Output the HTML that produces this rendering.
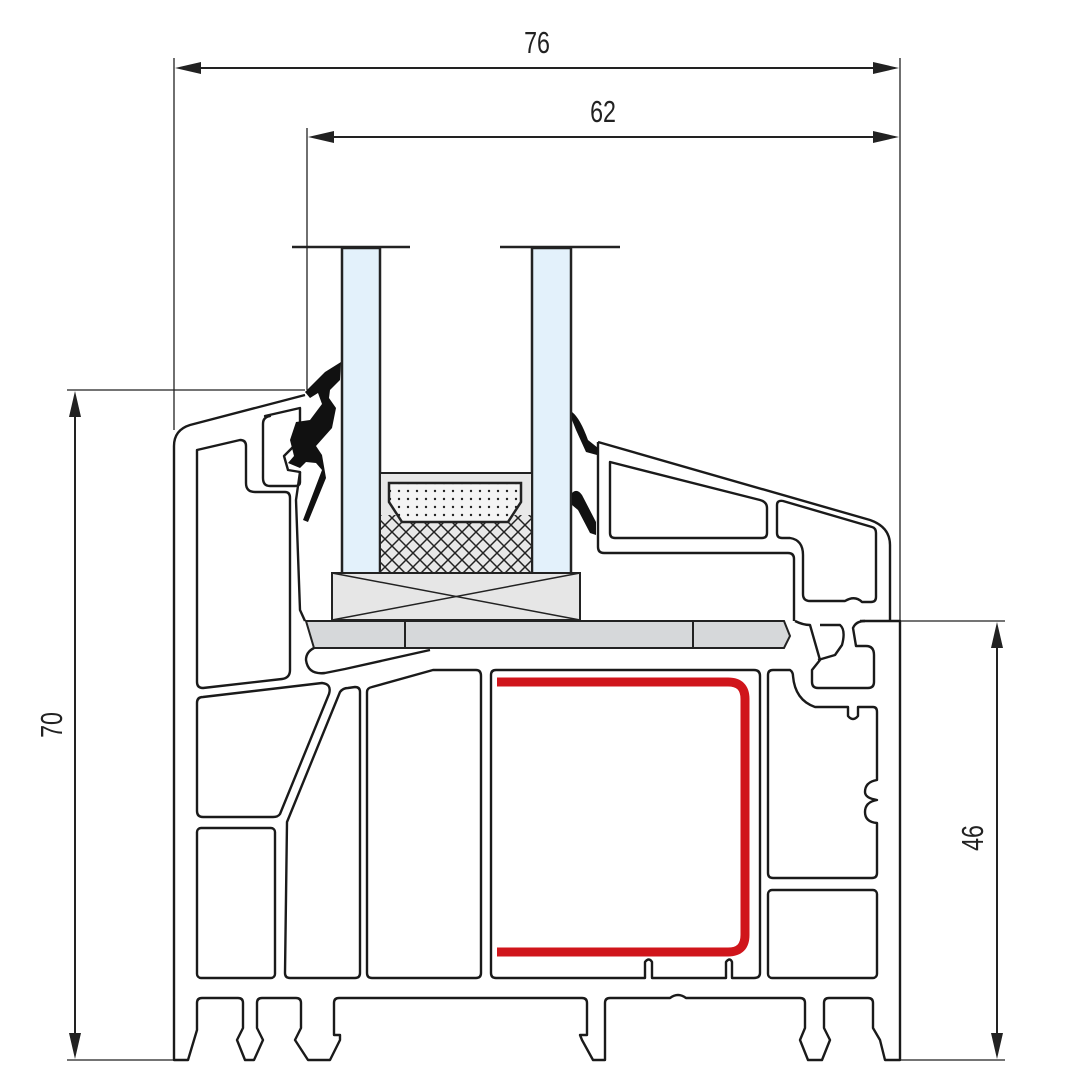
<!DOCTYPE html>
<html><head><meta charset="utf-8"><style>html,body{margin:0;padding:0;background:#fff}svg{display:block}</style></head>
<body>
<svg width="1080" height="1080" viewBox="0 0 1080 1080" xmlns="http://www.w3.org/2000/svg">
<defs>
<pattern id="dots" width="9" height="8" patternUnits="userSpaceOnUse"><circle cx="3" cy="3" r="1.2" fill="#222"/></pattern>
<pattern id="hatch" width="14" height="14" patternUnits="userSpaceOnUse"><path d="M0,0 L14,14 M14,0 L0,14" stroke="#222" stroke-width="1.5"/></pattern>
</defs>
<g fill="none" stroke="#222" stroke-width="1.3">
<line x1="174" y1="58" x2="174" y2="430"/>
<line x1="900" y1="58" x2="900" y2="622"/>
<line x1="180" y1="68" x2="895" y2="68" stroke-width="2"/>
<line x1="307" y1="128" x2="307" y2="390"/>
<line x1="313" y1="137" x2="895" y2="137" stroke-width="2"/>
<line x1="67" y1="390" x2="305" y2="390"/>
<line x1="75" y1="398" x2="75" y2="1054" stroke-width="2"/>
<line x1="67" y1="1060" x2="174" y2="1060"/>
<line x1="880" y1="621" x2="1005" y2="621"/>
<line x1="997" y1="628" x2="997" y2="1054" stroke-width="2"/>
<line x1="900" y1="1060" x2="1005" y2="1060"/>
</g>
<g fill="#222">
<polygon points="175,68 201,62 201,74"/><polygon points="899,68 873,62 873,74"/>
<polygon points="308,137 334,131 334,143"/><polygon points="899,137 873,131 873,143"/>
<polygon points="75,391 69,417 81,417"/><polygon points="75,1059 69,1033 81,1033"/>
<polygon points="997,622 991,648 1003,648"/><polygon points="997,1059 991,1033 1003,1033"/>
</g>
<g font-family="Liberation Sans, sans-serif" font-size="31" fill="#222" text-anchor="middle">
<text transform="translate(537,53) scale(0.75,1)">76</text>
<text transform="translate(603,122) scale(0.75,1)">62</text>
<text transform="translate(62,725) rotate(-90) scale(0.75,1)">70</text>
<text transform="translate(983,838) rotate(-90) scale(0.75,1)">46</text>
</g>
<g stroke="#222" stroke-width="2.5">
<line x1="292" y1="247" x2="410" y2="247"/><line x1="500" y1="247" x2="620" y2="247"/>
<rect x="342" y="248" width="38" height="326" fill="#e3f1fb"/>
<rect x="532" y="248" width="39" height="326" fill="#e3f1fb"/>
</g>
<rect x="380" y="473" width="152" height="101" fill="#e8e8e8" stroke="#222" stroke-width="2"/>
<rect x="380" y="515" width="152" height="59" fill="url(#hatch)"/>
<path d="M389,483 H521 V502 L508,522 H402 L389,502 Z" fill="#f4f4f4" stroke="#222" stroke-width="2.5"/>
<path d="M389,483 H521 V502 L508,522 H402 L389,502 Z" fill="url(#dots)"/>
<g stroke="#222" stroke-width="2">
<rect x="332" y="573" width="248" height="47" fill="#e6e6e6"/>
<path d="M332,573 L580,620 M580,573 L332,620" stroke-width="1.5"/>
<path d="M306,621 H784 L790,636 L784,648 H314 Z" fill="#d6d8da"/>
<line x1="405" y1="621" x2="405" y2="648"/><line x1="693" y1="621" x2="693" y2="648"/>
</g>
<g fill="none" stroke="#1a1a1a" stroke-width="2.4" stroke-linejoin="round">
<path d="M305,395 L190,425 Q174,430 174,446 V1060 H188 L197,1030 V1003 Q197,998 202,998 H238 Q243,998 243,1003 V1028 L237,1040 L245,1060 H254 L263,1040 L257,1028 V1003 Q257,998 262,998 H296 Q301,998 301,1003 V1028 L295,1040 L308,1060 H330 L340,1040 V1035 H334 V1003 Q334,998 339,998 H582 Q587,998 587,1003 V1035 H580 L582,1040 L593,1060 H605 V1003 Q605,998 610,998 H670 Q678,992 686,998 H800 Q805,998 805,1003 V1028 L800,1040 L808,1060 H822 L830,1040 L824,1028 V1003 Q824,998 829,998 H868 Q873,998 873,1003 V1028 L880,1040 L885,1060 H900 V621 H860"/>
<path d="M197,450 L240,440 Q246,440 246,446 V483 Q246,492 255,492 H285 Q290,492 290,498 V670 Q290,678 282,679 L203,688 Q197,688 197,682 Z"/>
<path d="M265,416 L300,408 V440 L284,456 L288,470 L300,472 V482 Q300,486 295,486 H270 Q263,486 263,478 V424 Q263,417 270,416 Z"/>
<path d="M197,703 Q197,697 203,697 L322,683 Q332,684 329,694 L280,814 Q278,817 273,817 H203 Q197,817 197,811 Z"/>
<rect x="197" y="828" width="78" height="150" rx="4"/>
<path d="M287,822 L340,692 Q343,688 348,688 L355,687 Q360,687 360,692 V973 Q360,978 355,978 H290 Q285,978 285,973 Z"/>
<path d="M367,692 Q367,688 372,687 L433,670 H476 Q481,670 481,676 V973 Q481,978 476,978 H372 Q367,978 367,973 Z"/>
<path d="M491,675 Q491,670 496,670 H754 Q760,670 760,676 V973 Q760,978 754,978 H732 V962 Q730,957 726,962 V978 H652 V962 Q649,957 645,962 V978 H496 Q491,978 491,973 Z"/>
<path d="M768,675 Q768,670 773,670 H790 Q793,672 793,676 Q795,700 815,707 H848 V716 Q853,722 858,716 V707 H873 Q877,707 877,712 V780 Q865,782 865,792 Q865,798 877,800 Q865,802 865,812 Q865,822 877,823 V873 Q877,878 872,878 H773 Q768,878 768,873 Z"/>
<rect x="768" y="890" width="109" height="88" rx="4"/>
<path d="M300,472 L296,500 L300,610 L305,621"/>
<path d="M314,648 Q306,652 306,660 Q308,675 325,673 L345,669 L430,650"/>
<path d="M598,442 L870,520 Q890,527 890,545 V621"/>
<path d="M598,442 V547 Q598,553 604,553 H788 Q794,553 794,559 V621"/>
<path d="M610,462 L760,500 Q767,502 767,508 V533 Q767,538 762,538 H615 Q610,538 610,533 Z"/>
<path d="M777,505 Q777,500 783,501 L872,527 Q876,528 876,533 V597 Q876,602 871,602 H862 Q855,595 845,601 H810 Q803,601 803,594 V555 Q803,540 790,538 H782 Q777,538 777,533 Z"/>
<path d="M795,621 Q803,625 810,625 L820,660 L812,670 V682 Q812,688 818,688 H868 Q874,688 874,682 V655 Q874,646 866,646 H856 L853,628 Q856,621 865,621"/>
<path d="M820,625 H840 Q846,630 842,645 L835,655 L818,660"/>
</g>
<path d="M497,682 H728 Q745,682 745,699 V935 Q745,952 728,952 H497" fill="none" stroke="#d0151b" stroke-width="9"/>
<g fill="#111">
<path d="M341,362 L325,372 L305,392 L310,398 L318,393 L322,404 L310,420 L296,422 L290,440 L294,456 L288,463 L300,468 L306,462 L316,463 L322,470 L303,520 L308,522 L326,478 L322,455 L316,446 L332,428 L336,408 L329,398 L330,390 L340,380 Z"/>
<path d="M572,412 Q580,418 588,440 L598,448 L597,455 L586,452 L576,430 L572,420 Z"/>
<path d="M572,493 Q577,488 582,495 L596,522 L596,535 L590,533 L578,510 L572,505 Z"/>
</g>
</svg>
</body></html>
